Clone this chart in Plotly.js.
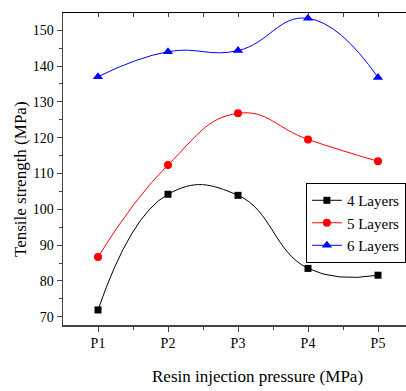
<!DOCTYPE html>
<html>
<head>
<meta charset="utf-8">
<script src="https://cdn.plot.ly/plotly-3.0.1.min.js"></script>
<style>
html, body { margin: 0; padding: 0; overflow: hidden; background: #fff; }
#chart { width: 420px; height: 391px; }
</style>
</head>
<body>
<div id="chart"></div>
<script>
const categories = ["P1", "P2", "P3", "P4", "P5"];
const xPos = [1, 2, 3, 4, 5];
const layers4 = [71.9, 104.2, 103.9, 83.5, 81.6];
const layers5 = [86.7, 112.4, 126.8, 119.5, 113.4];
const layers6 = [137.0, 144.0, 144.3, 153.3, 136.8];
const seriesNames = ["4 Layers", "5 Layers", "6 Layers"];

const FONT = "Liberation Serif";

const traces = [
  {x: xPos, y: layers4, name: seriesNames[0], type: "scatter", mode: "lines+markers",
   line: {color: "#000000", width: 1, shape: "spline", smoothing: 1.3},
   marker: {symbol: "square", size: 7, color: "#000000"}},
  {x: xPos, y: layers5, name: seriesNames[1], type: "scatter", mode: "lines+markers",
   line: {color: "#ff0000", width: 1, shape: "spline", smoothing: 1.3},
   marker: {symbol: "circle", size: 8, color: "#ff0000"}},
  {x: xPos, y: layers6, name: seriesNames[2], type: "scatter", mode: "lines+markers",
   line: {color: "#0000ff", width: 1, shape: "spline", smoothing: 1.3},
   marker: {symbol: "triangle-up", size: 9, color: "#0000ff"}},
  {x: [], y: [], xaxis: "x2", showlegend: false, hoverinfo: "skip"}
];

const minorVals = [1.5, 2.5, 3.5, 4.5];

const layout = {
  width: 420, height: 391,
  margin: {l: 63, r: 7, t: 13, b: 66},
  paper_bgcolor: "#fff", plot_bgcolor: "#fff",
  font: {family: FONT, color: "#000", size: 14},
  showlegend: true,
  legend: {
    x: 0.694, xanchor: "left", y: 0.455, yanchor: "top",
    bordercolor: "#000", borderwidth: 1, bgcolor: "#fff",
    font: {family: FONT, size: 15, color: "#000"},
    tracegroupgap: 0, itemwidth: 30
  },
  xaxis: {
    range: [0.5, 5.5], tickmode: "array", tickvals: xPos, ticktext: categories,
    showgrid: false, zeroline: false, showline: true, linecolor: "#444", linewidth: 1.5,
    ticks: "outside", ticklen: 5, tickwidth: 1, tickcolor: "#444",
    tickfont: {family: FONT, size: 14, color: "#000"},
    minor: {tickmode: "array", tickvals: minorVals, ticks: "outside", ticklen: 3, tickcolor: "#444", showgrid: false}
  },
  xaxis2: {
    overlaying: "x", side: "top", matches: "x", range: [0.5, 5.5],
    tickmode: "array", tickvals: xPos, showticklabels: false,
    showgrid: false, zeroline: false, showline: true, linecolor: "#000", linewidth: 1,
    ticks: "inside", ticklen: 4, tickwidth: 1, tickcolor: "#444",
    minor: {tickmode: "array", tickvals: minorVals, ticks: "inside", ticklen: 4, tickcolor: "#444", showgrid: false}
  },
  yaxis: {
    range: [67.7, 154.8], tickmode: "linear", tick0: 70, dtick: 10,
    showgrid: false, zeroline: false, showline: true, linecolor: "#444", linewidth: 1.5,
    ticks: "outside", ticklen: 5, tickwidth: 1, tickcolor: "#444",
    tickfont: {family: FONT, size: 14, color: "#000"},
    minor: {dtick: 5, ticks: "outside", ticklen: 3, tickcolor: "#444", showgrid: false}
  },
  annotations: [
    {text: "Resin injection pressure (MPa)", xref: "paper", yref: "paper",
     x: (257 - 63) / 350, y: -0.165, xanchor: "center", yanchor: "middle", showarrow: false,
     font: {family: FONT, size: 17, color: "#000"}},
    {text: "Tensile strength (MPa)", xref: "paper", yref: "paper", textangle: -90,
     x: (20 - 63) / 350, y: 1 - (179 - 13) / 312, xanchor: "center", yanchor: "middle", showarrow: false,
     font: {family: FONT, size: 17, color: "#000"}}
  ]
};

Plotly.newPlot("chart", traces, layout, {displayModeBar: false, staticPlot: true});
</script>
</body>
</html>
